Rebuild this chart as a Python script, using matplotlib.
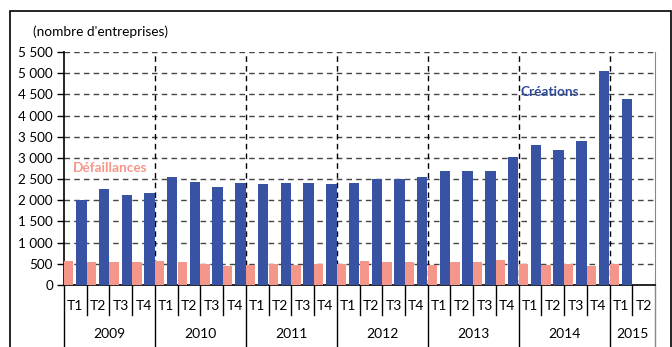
import matplotlib.pyplot as plt
from matplotlib.patches import Rectangle
from matplotlib.transforms import blended_transform_factory

plt.rcParams['font.family'] = ['Lato', 'DejaVu Sans']

years = ['2009', '2010', '2011', '2012', '2013', '2014', '2015']
quarters = ['T1', 'T2', 'T3', 'T4']
# trimestres 2009 T1 -> 2015 T2
creations = [2000, 2260, 2120, 2175,
             2560, 2435, 2325, 2410,
             2380, 2410, 2410, 2380,
             2410, 2500, 2500, 2560,
             2680, 2700, 2700, 3030,
             3300, 3180, 3410, 5060,
             4390, None]
defaillances = [570, 535, 535, 535,
                565, 535, 500, 445,
                470, 500, 470, 500,
                500, 565, 535, 535,
                470, 535, 535, 590,
                500, 470, 500, 445,
                500, None]

BLUE = '#3953A4'
SALMON = '#F4978A'

fig = plt.figure(figsize=(6.72, 3.47), dpi=100)
ax = fig.add_axes([64 / 672, 1 - 285 / 347, 591 / 672, 233 / 347])

n = len(creations)
for i in range(n):
    if defaillances[i] is not None:
        ax.bar(i, defaillances[i], width=0.41, align='edge', color=SALMON,
               zorder=3)
    if creations[i] is not None:
        ax.bar(i + 0.53, creations[i], width=0.46, align='edge', color=BLUE,
               zorder=3)

ax.set_xlim(0, n)
ax.set_ylim(0, 5500)
ax.set_yticks(range(0, 5501, 500))
ax.set_yticklabels([f'{v:,}'.replace(',', ' ') for v in range(0, 5501, 500)],
                   fontsize=9.7)
ax.tick_params(axis='y', direction='out', length=5, width=1, pad=3)
ax.set_xticks([])

# grille
for v in range(500, 5501, 500):
    ax.axhline(v, color='#444444', lw=1, ls=(0, (4, 3)), zorder=1)
for x in range(4, n, 4):
    ax.axvline(x, color='black', lw=1, ls=(0, (4, 3)), zorder=1)

ax.spines['top'].set_visible(False)
ax.spines['right'].set_color('#888888')
ax.spines['left'].set_linewidth(1.2)
ax.spines['bottom'].set_linewidth(1.2)

# axe des x à deux niveaux
tr = blended_transform_factory(ax.transData, ax.transAxes)
for i in range(n):
    ax.text(i + 0.5, -0.09, quarters[i % 4], transform=tr, ha='center',
            va='center', fontsize=10)
    if i > 0 and i % 4 != 0:
        ax.plot([i, i], [0, -0.13], transform=tr, color='black', lw=1,
                clip_on=False)
for x in list(range(0, n, 4)) + [n]:
    ax.plot([x, x], [0, -0.3], transform=tr, color='black' if x < n else '#888888',
            lw=1, clip_on=False)
for k, y in enumerate(years):
    start = k * 4
    end = min(start + 4, n)
    ax.text((start + end) / 2, -0.21, y, transform=tr, ha='center',
            va='center', fontsize=10)

# libellés
fig.text(33 / 672, 1 - 32 / 347, "(nombre d'entreprises)", fontsize=9.8,
         ha='left', va='center')
ax.text(0.4, 2750, 'Défaillances', color=SALMON, fontweight='bold',
        fontsize=9.8, ha='left', va='center')
ax.text(20.1, 4550, 'Créations', color='#2F4A98', fontweight='bold',
        fontsize=9.8, ha='left', va='center')

# cadre
fig.patches.append(Rectangle((10 / 672, -0.1), 660.5 / 672, 1.1 - 11 / 347,
                             transform=fig.transFigure, fill=False,
                             edgecolor='black', lw=1.2))

plt.savefig('out.png', dpi=100)
